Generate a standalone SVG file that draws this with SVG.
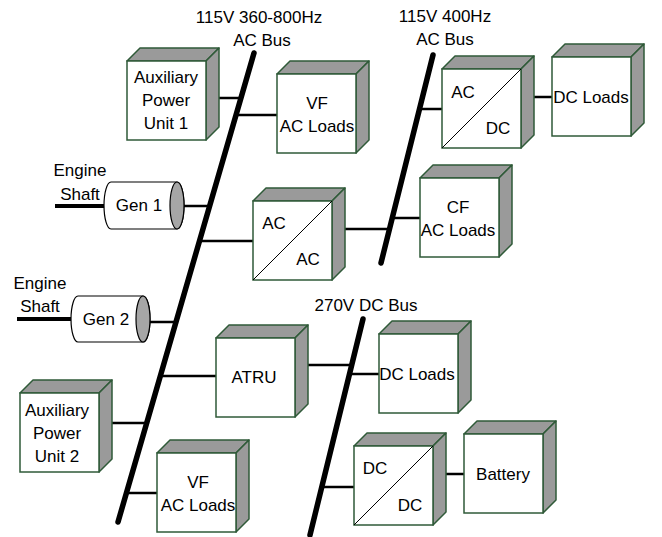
<svg xmlns="http://www.w3.org/2000/svg" xmlns:xlink="http://www.w3.org/1999/xlink" width="662" height="537" viewBox="0 0 662 537">
<style>
text{font-family:"Liberation Sans",Arial,sans-serif;font-size:17px;fill:#000;text-anchor:middle;dominant-baseline:central}
.bus{stroke:#000;stroke-width:5.5;stroke-linecap:round;fill:none}
.wire{stroke:#000;stroke-width:2.5;fill:none}
.shaft{stroke:#000;stroke-width:4;fill:none}
.diag{stroke:#000;stroke-width:1;fill:none}
.face{fill:#fff;stroke:#2f5a38;stroke-width:1.5}
.shade{fill:#9a9a9a;stroke:#2f5a38;stroke-width:1.5;stroke-linejoin:round}
.cyl{fill:#fff;stroke:#000;stroke-width:1.2}
.cap{fill:#a6a6a6;stroke:#000;stroke-width:1.2}
</style>
<defs>
<g id="cube">
<polygon class="shade" points="0,0 13,-13 92,-13 79,0"/>
<polygon class="shade" points="79,0 92,-13 92,66 79,79"/>
<rect class="face" x="0" y="0" width="79" height="79"/>
</g>
</defs>
<g id="connectors">
<line class="bus" x1="254" y1="53" x2="118" y2="522"/>
<line class="bus" x1="433" y1="55" x2="381" y2="263"/>
<line class="bus" x1="363" y1="319" x2="310" y2="535"/>
<line class="wire" x1="212" y1="98" x2="241" y2="98"/>
<line class="wire" x1="236" y1="115" x2="277" y2="115"/>
<line class="wire" x1="420" y1="109" x2="442" y2="109"/>
<line class="wire" x1="528" y1="97" x2="552" y2="97"/>
<line class="wire" x1="177" y1="206" x2="210" y2="206"/>
<line class="wire" x1="199" y1="241" x2="253" y2="241"/>
<line class="wire" x1="340" y1="229" x2="389" y2="229"/>
<line class="wire" x1="392" y1="218" x2="420" y2="218"/>
<line class="wire" x1="143" y1="322" x2="176" y2="322"/>
<line class="wire" x1="160" y1="376" x2="216" y2="376"/>
<line class="wire" x1="302" y1="365" x2="352" y2="365"/>
<line class="wire" x1="108" y1="423" x2="147" y2="423"/>
<line class="wire" x1="126" y1="493" x2="157" y2="493"/>
<line class="wire" x1="349" y1="374" x2="379" y2="374"/>
<line class="wire" x1="322" y1="487" x2="354" y2="487"/>
<line class="wire" x1="441" y1="474" x2="464" y2="474"/>
<line class="shaft" x1="55" y1="206" x2="105" y2="206"/>
<line class="shaft" x1="17" y1="319" x2="71" y2="319"/>
</g>
<g id="labels">
<text x="259" y="17">115V 360-800Hz</text>
<text x="262" y="40">AC Bus</text>
<text x="445" y="16">115V 400Hz</text>
<text x="445" y="39">AC Bus</text>
<text x="366" y="305">270V DC Bus</text>
<text x="80" y="170">Engine</text>
<text x="80" y="194">Shaft</text>
<text x="40" y="283">Engine</text>
<text x="40" y="306">Shaft</text>
</g>
<g id="apu1">
<use xlink:href="#cube" href="#cube" x="127" y="61"/>
<text x="166" y="77">Auxiliary</text>
<text x="166" y="100">Power</text>
<text x="166" y="123">Unit 1</text>
</g>
<g id="vf-loads-1">
<use xlink:href="#cube" href="#cube" x="277" y="74"/>
<text x="317" y="103">VF</text>
<text x="317" y="126">AC Loads</text>
</g>
<g id="acdc">
<use xlink:href="#cube" href="#cube" x="442" y="69"/>
<line class="diag" x1="442" y1="148" x2="521" y2="69"/>
<text x="463" y="92">AC</text>
<text x="498" y="128">DC</text>
</g>
<g id="dc-loads-1">
<use xlink:href="#cube" href="#cube" x="552" y="57"/>
<text x="591" y="97">DC Loads</text>
</g>
<g id="gen1">
<path class="cyl" d="M111 182 L177 182 A7 23.5 0 0 1 177 229 L111 229 A7 23.5 0 0 1 111 182 Z"/>
<ellipse class="cap" cx="177" cy="205.5" rx="7" ry="23.5"/>
<text x="139" y="205">Gen 1</text>
</g>
<g id="acac">
<use xlink:href="#cube" href="#cube" x="253" y="201"/>
<line class="diag" x1="253" y1="280" x2="332" y2="201"/>
<text x="274" y="223">AC</text>
<text x="308" y="259">AC</text>
</g>
<g id="cf-loads">
<use xlink:href="#cube" href="#cube" x="420" y="178"/>
<text x="458" y="207">CF</text>
<text x="458" y="230">AC Loads</text>
</g>
<g id="gen2">
<path class="cyl" d="M78 296 L143 296 A7 23 0 0 1 143 342 L78 342 A7 23 0 0 1 78 296 Z"/>
<ellipse class="cap" cx="143" cy="319" rx="7" ry="23"/>
<text x="106" y="319">Gen 2</text>
</g>
<g id="atru">
<use xlink:href="#cube" href="#cube" x="216" y="338"/>
<text x="254" y="377">ATRU</text>
</g>
<g id="dc-loads-2">
<use xlink:href="#cube" href="#cube" x="379" y="334"/>
<text x="417" y="374">DC Loads</text>
</g>
<g id="apu2">
<use xlink:href="#cube" href="#cube" x="20" y="393"/>
<text x="57" y="410">Auxiliary</text>
<text x="57" y="433">Power</text>
<text x="57" y="456">Unit 2</text>
</g>
<g id="vf-loads-2">
<use xlink:href="#cube" href="#cube" x="157" y="453"/>
<text x="198" y="482">VF</text>
<text x="198" y="505">AC Loads</text>
</g>
<g id="dcdc">
<use xlink:href="#cube" href="#cube" x="354" y="446"/>
<line class="diag" x1="354" y1="525" x2="433" y2="446"/>
<text x="375" y="468">DC</text>
<text x="410" y="505">DC</text>
</g>
<g id="battery">
<use xlink:href="#cube" href="#cube" x="464" y="434"/>
<text x="503" y="474">Battery</text>
</g>
</svg>
